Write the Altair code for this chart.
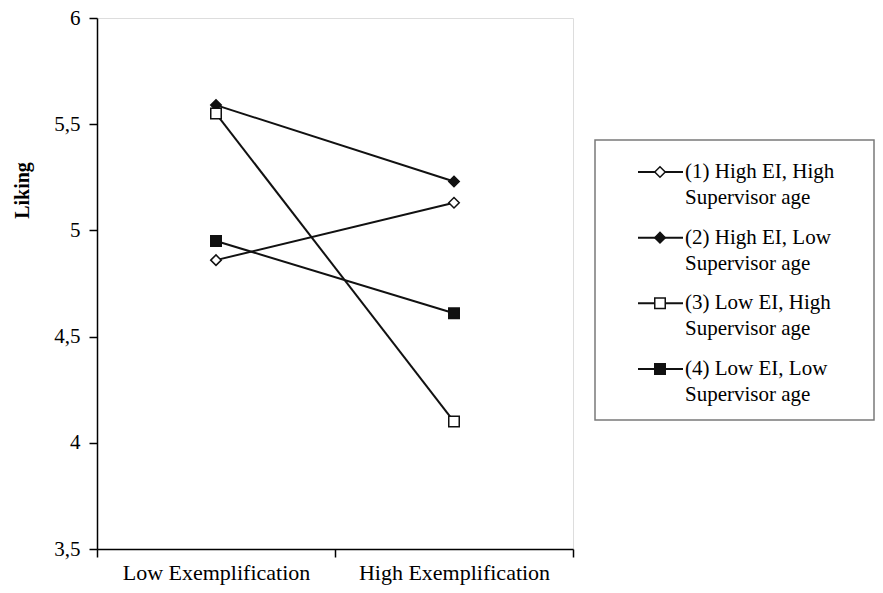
import altair as alt
import pandas as pd

# ---------------- data ----------------
conditions = ["Low Exemplification", "High Exemplification"]
series = [
    "(1) High EI, High Supervisor age",
    "(2) High EI, Low Supervisor age",
    "(3) Low EI, High Supervisor age",
    "(4) Low EI, Low Supervisor age",
]
legend_line1 = ["(1) High EI, High", "(2) High EI, Low", "(3) Low EI, High", "(4) Low EI, Low"]
legend_line2 = ["Supervisor age", "Supervisor age", "Supervisor age", "Supervisor age"]
low_values = [4.86, 5.59, 5.55, 4.95]
high_values = [5.13, 5.23, 4.10, 4.61]
y_ticks = [3.5, 4, 4.5, 5, 5.5, 6]

rows = []
for s, lo, hi in zip(series, low_values, high_values):
    rows.append({"series": s, "condition": conditions[0], "value": lo})
    rows.append({"series": s, "condition": conditions[1], "value": hi})
df = pd.DataFrame(rows)
legend_df = pd.DataFrame({"series": series, "line1": legend_line1, "line2": legend_line2})

FONT = "Liberation Serif"
INK = "#111111"

shape_scale = alt.Scale(domain=series, range=["diamond", "diamond", "square", "square"])
fill_scale = alt.Scale(domain=series, range=["white", INK, "white", INK])
size_scale = alt.Scale(domain=series, range=[110, 110, 150, 150])

x_enc = alt.X(
    "condition:N",
    sort=conditions,
    scale=alt.Scale(type="band", domain=conditions, paddingInner=0, paddingOuter=0),
    bandPosition=0.5,
    axis=alt.Axis(
        title=None, tickBand="extent", labelAngle=0, labelFont=FONT, labelFontSize=22,
        labelColor="black", labelPadding=5, labelLimit=400, tickSize=8, tickColor="black",
        tickWidth=1.5, domainColor="black", domainWidth=1.5,
    ),
)
y_enc = alt.Y(
    "value:Q",
    scale=alt.Scale(domain=[3.5, 6], nice=False, zero=False),
    axis=alt.Axis(
        title="Liking", values=y_ticks, grid=False,
        labelExpr="replace(format(datum.value, '.1~f'), '.', ',')",
        labelFont=FONT, labelFontSize=21, labelColor="black", labelPadding=9,
        tickSize=8, tickColor="black", tickWidth=1.5, domainColor="black", domainWidth=1.5,
        titleFont=FONT, titleFontSize=20, titleFontWeight="bold", titleColor="black",
        titleX=-65, titleY=172,
    ),
)

lines = alt.Chart(df).mark_line(color=INK, strokeWidth=2).encode(
    x=x_enc, y=y_enc, detail="series:N"
)
points = alt.Chart(df).mark_point(filled=True, stroke=INK, strokeWidth=1.5, opacity=1).encode(
    x=x_enc, y=y_enc,
    shape=alt.Shape("series:N", scale=shape_scale, legend=None),
    fill=alt.Fill("series:N", scale=fill_scale, legend=None),
    size=alt.Size("series:O", scale=size_scale, legend=None),
)
main = alt.layer(lines, points)

# ---------------- legend ----------------
ly = alt.Y("series:N", scale=alt.Scale(type="point", domain=series, range=[154, 351], padding=0), axis=None)

box = alt.Chart(pd.DataFrame({"box": [1]})).mark_rect(
    fill="white", fillOpacity=0, stroke="#7a7a7a", strokeWidth=1.5
).encode(x=alt.value(498), x2=alt.value(777), y=alt.value(122), y2=alt.value(402))
lrule = alt.Chart(legend_df).mark_rule(color=INK, strokeWidth=2).encode(
    x=alt.value(541), x2=alt.value(586), y=ly
)
lpts = alt.Chart(legend_df).mark_point(filled=True, stroke=INK, strokeWidth=1.5, opacity=1).encode(
    x=alt.value(563), y=ly,
    shape=alt.Shape("series:N", scale=shape_scale, legend=None),
    fill=alt.Fill("series:N", scale=fill_scale, legend=None),
    size=alt.Size("series:O", scale=size_scale, legend=None),
)
t1 = alt.Chart(legend_df).mark_text(
    align="left", baseline="middle", font=FONT, fontSize=21, color="black"
).encode(x=alt.value(588), y=ly, text="line1:N")
t2 = alt.Chart(legend_df).mark_text(
    align="left", baseline="middle", font=FONT, fontSize=21, color="black", dy=26
).encode(x=alt.value(588), y=ly, text="line2:N")
legend = alt.layer(box, lrule, lpts, t1, t2)

chart = alt.layer(main, legend).resolve_scale(y="independent").properties(
    width=476, height=531,
    autosize=alt.AutoSizeParams(type="none"),
    padding={"left": 89, "top": 10, "right": 302, "bottom": 36},
).configure_view(stroke="#7a7a7a", strokeWidth=1.5).configure(background="white")

chart.save("out.html", embed_options={"renderer": "svg", "actions": False})
